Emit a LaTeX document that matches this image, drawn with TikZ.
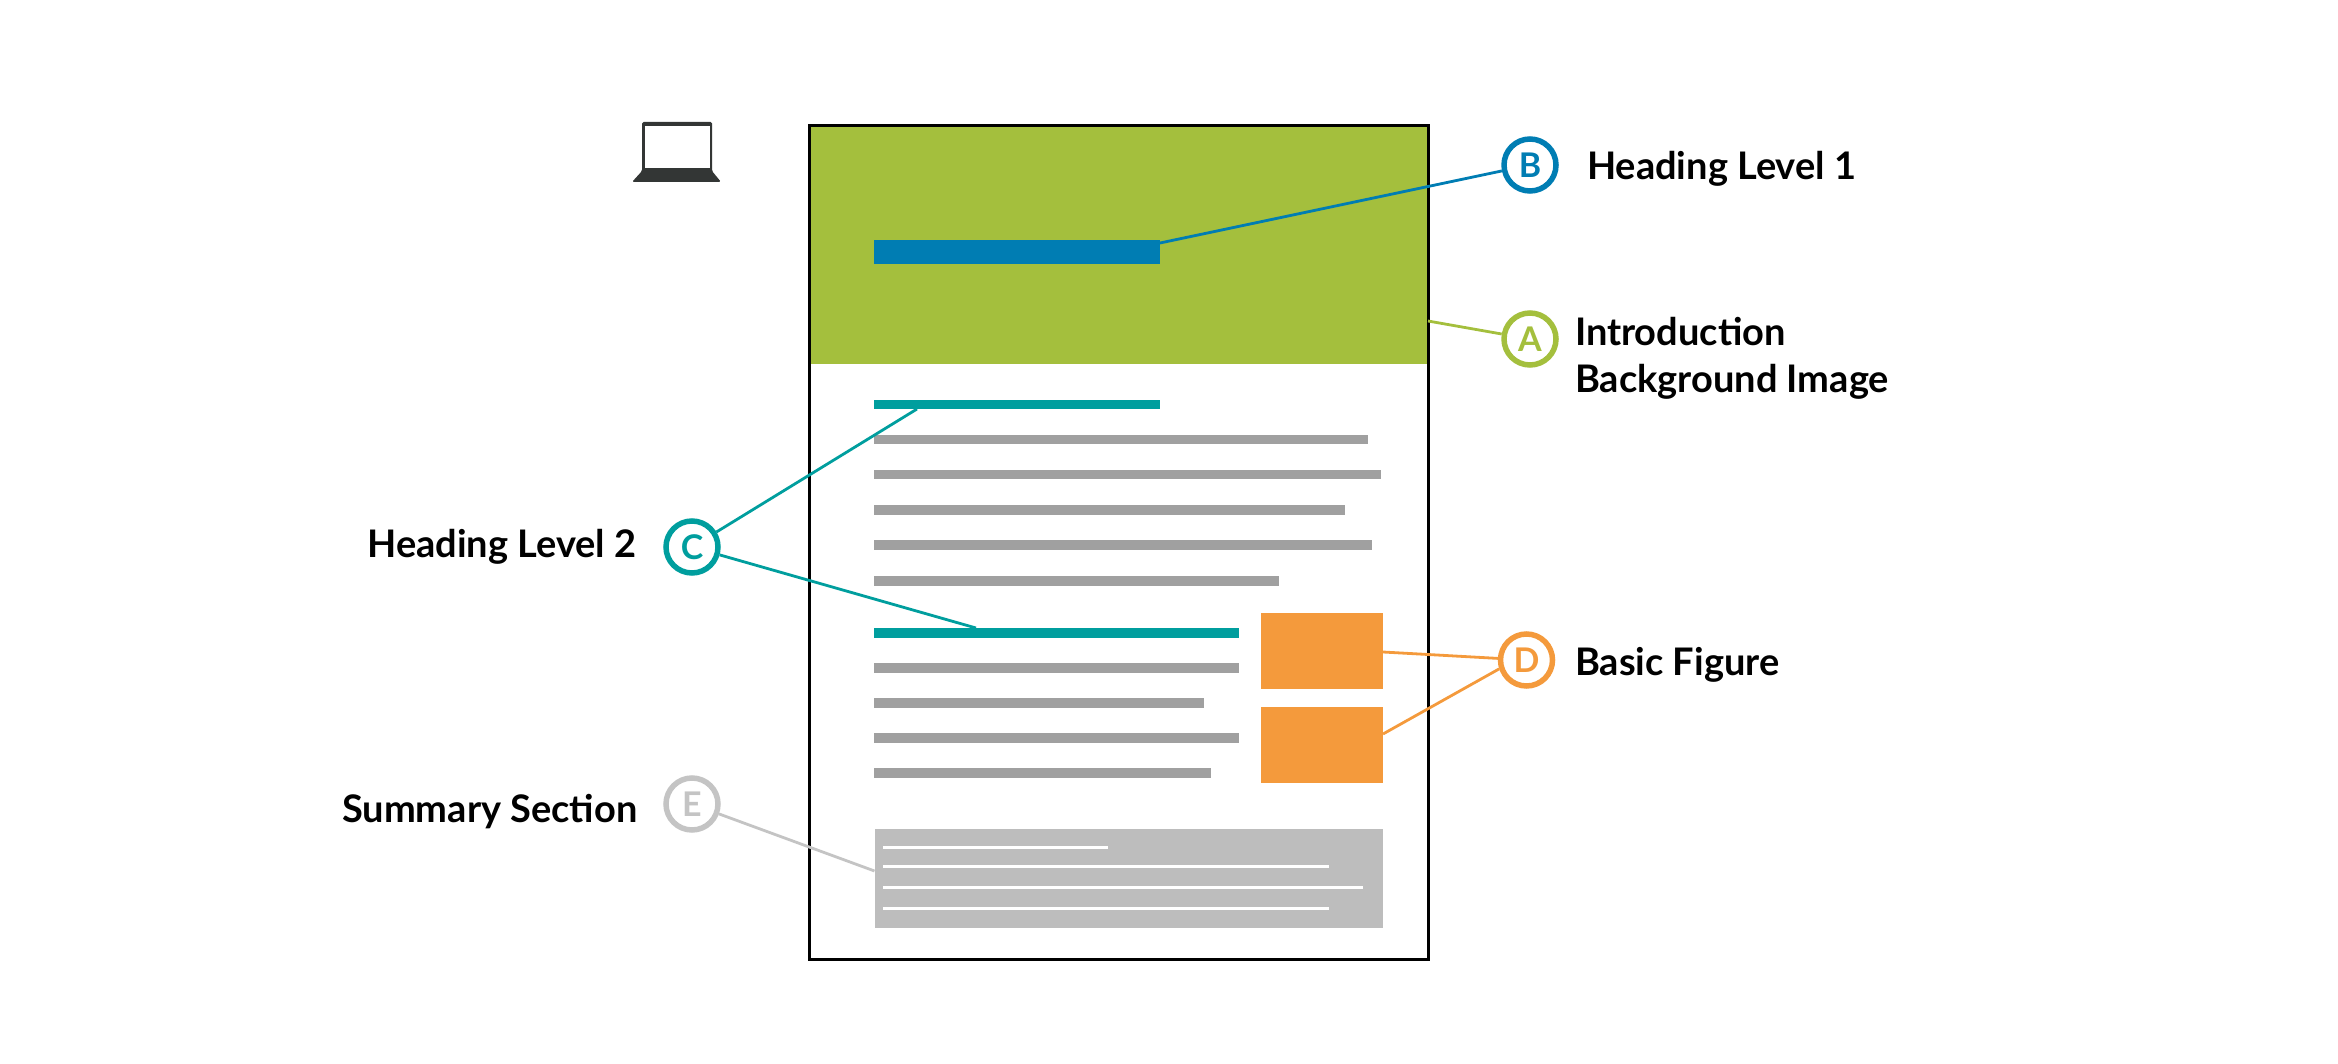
\documentclass[tikz,border=0pt]{standalone}
\usepackage{fontspec}
\setmainfont{Lato}
\definecolor{cgreen}{HTML}{A4BF3D}
\definecolor{cblue}{HTML}{007DB3}
\definecolor{cteal}{HTML}{009E9E}
\definecolor{corange}{HTML}{F49A3C}
\definecolor{cgray}{HTML}{A0A0A0}
\definecolor{cbox}{HTML}{BDBDBD}
\definecolor{cmark}{HTML}{C4C4C4}
\definecolor{claptop}{HTML}{333635}
\tikzset{
  x=1pt,y=-1pt,
  barbox/.style={inner sep=0pt,outer sep=0pt,draw=none},
  marker/.style={circle,draw=#1,text=#1,fill=white,line width=5.5pt,minimum size=52pt,inner sep=0pt,font=\fontsize{34}{34}\selectfont\bfseries},
  caption/.style={inner sep=0pt,outer sep=0pt,text=black,font=\fontsize{38}{47}\selectfont\bfseries},
  leader/.style={draw=#1,line width=2.8pt}
}
\newcommand{\barnode}[6]{\node[barbox,fill=#6,minimum width={(#4-#2)*1pt},minimum height={(#5-#3)*1pt}] (#1) at ({(#2+#4)/2},{(#3+#5)/2}) {};}
\begin{document}
\begin{tikzpicture}
\useasboundingbox (0,-1) rectangle (2338,1063);
% laptop
\fill[claptop,rounded corners=1.5pt] (642,121) -- (712,121) -- (712,170) -- (721,181) -- (632,181) -- (642,170) -- cycle;
\fill[white] (645,125) rectangle (710,167.5);
% page
\barnode{intro}{809}{125}{1428}{363}{cgreen}
\node[draw=black,line width=3pt,inner sep=0pt,minimum width=619pt,minimum height=833pt] (page) at (1118.5,541.5) {};
\barnode{hone}{873.5}{239}{1160}{263}{cblue}
\barnode{htwoa}{873.5}{399}{1160}{408}{cteal}
\barnode{ga}{873.5}{434}{1368}{443.5}{cgray}
\barnode{gb}{873.5}{469}{1381}{478.5}{cgray}
\barnode{gc}{873.5}{504}{1345}{513.5}{cgray}
\barnode{gd}{873.5}{539}{1372}{548.5}{cgray}
\barnode{ge}{873.5}{575}{1279}{584.5}{cgray}
\barnode{htwob}{873.5}{627}{1239}{636.5}{cteal}
\barnode{gf}{873.5}{662}{1239}{671.5}{cgray}
\barnode{gg}{873.5}{697}{1204}{706.5}{cgray}
\barnode{gh}{873.5}{732}{1239}{741.5}{cgray}
\barnode{gi}{873.5}{767}{1211}{776.5}{cgray}
\barnode{figa}{1261}{612}{1383}{688}{corange}
\barnode{figb}{1261}{706}{1383}{782}{corange}
\barnode{summ}{874.5}{828}{1383}{927}{cbox}
\barnode{wa}{883}{845}{1108}{848}{white}
\barnode{wb}{883}{864}{1329}{867}{white}
\barnode{wc}{883}{885}{1363}{888}{white}
\barnode{wd}{883}{906}{1329}{909}{white}
% markers
\node[marker=cblue] (B) at (1530,164) {B};
\node[marker=cgreen] (A) at (1530,338) {A};
\node[marker=cteal] (C) at (692,546) {C};
\node[marker=corange] (D) at (1526.5,659) {D};
\node[marker=cmark] (E) at (692,803) {E};
% leaders
\path (intro.north east) ++(0,195) coordinate (pa);
\path (htwoa.south west) ++(43.5,0) coordinate (pc1);
\path (htwob.north west) ++(102.5,0) coordinate (pc2);
\path (summ.north west) ++(0,42) coordinate (pe);
\path (figa.north east) ++(0,39) coordinate (pd1);
\path (figb.north east) ++(0,27) coordinate (pd2);
\path (hone.north east) ++(0,3) coordinate (pb);
\draw[leader=cblue] (pb) -- (B);
\draw[leader=cgreen] (pa) -- (A);
\draw[leader=cteal] (pc1) -- (C);
\draw[leader=cteal] (pc2) -- (C);
\draw[leader=corange] (pd1) -- (D);
\draw[leader=corange] (pd2) -- (D.198);
\draw[leader=cmark] (pe) -- (E);
% captions
\node[caption,anchor=base west] (tb) at (1587,179) {Heading Level 1};
\node[caption,anchor=base west] (ta) at (1575,345) {Introduction};
\node[caption,anchor=base west] (ta2) at (1575,392) {Background Image};
\node[caption,anchor=base east] (tc) at (636.5,556) {Heading Level 2};
\node[caption,anchor=base east] (te) at (637.5,821) {Summary Section};
\node[caption,anchor=base west] (td) at (1575,674) {Basic Figure};
\end{tikzpicture}
\end{document}
